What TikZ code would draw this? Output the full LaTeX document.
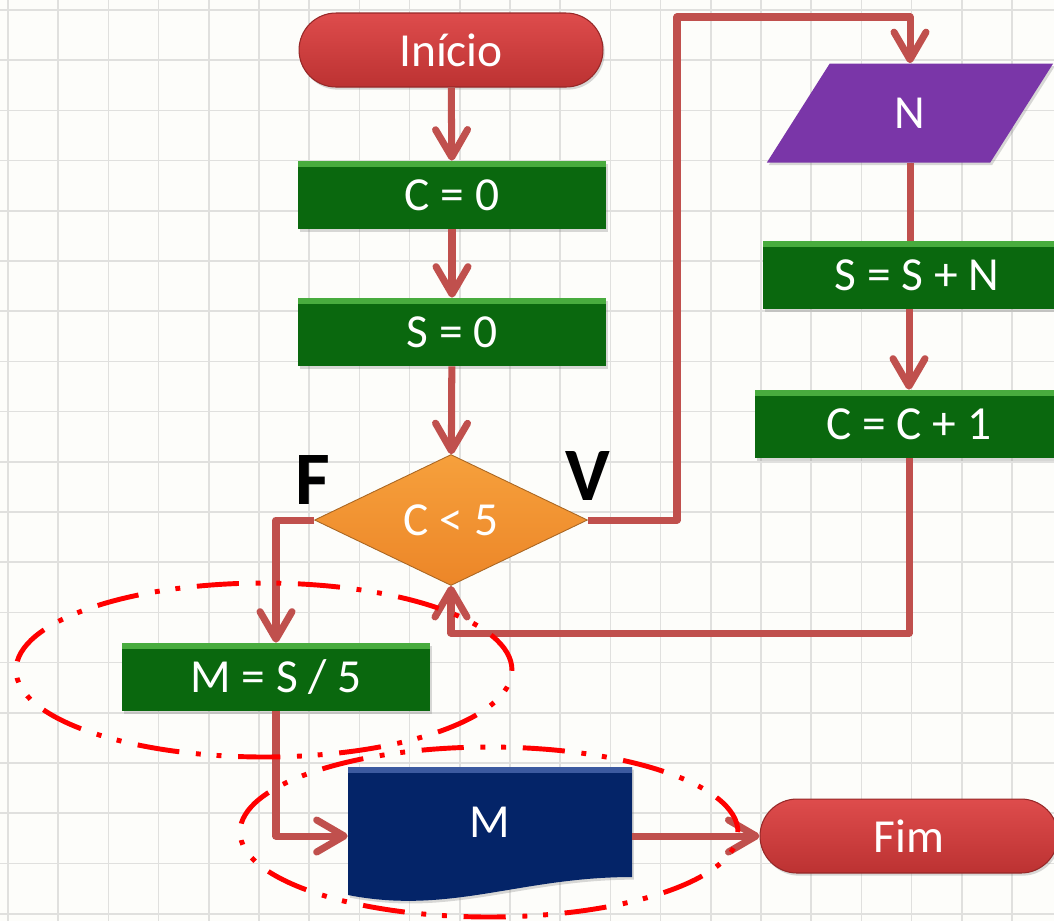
\documentclass[tikz,border=0pt]{standalone}
\usepackage{fontspec}
\setmainfont{Carlito}
\usetikzlibrary{shapes.geometric,shapes.misc,arrows.meta,shadows}

\definecolor{seta}{RGB}{192,80,77}
\definecolor{verde}{RGB}{10,104,14}
\definecolor{verdeclaro}{RGB}{72,172,62}
\definecolor{vermelho}{RGB}{205,62,62}
\definecolor{laranja}{RGB}{242,146,48}
\definecolor{roxo}{RGB}{122,54,168}
\definecolor{roxoclaro}{RGB}{185,115,230}
\definecolor{azul}{RGB}{4,36,104}
\definecolor{azulclaro}{RGB}{60,90,160}
\definecolor{grade}{RGB}{224,224,222}
\definecolor{fundo}{RGB}{253,253,250}

\tikzset{
  rotulo/.style={text=white, font=\fontsize{27}{31}\selectfont, inner sep=0pt},
  sombra/.style={drop shadow={opacity=0.3, shadow xshift=1pt, shadow yshift=-1.5pt}},
  processo/.style={rotulo, sombra, rectangle, fill=verde, minimum width=6.16cm, minimum height=1.36cm,
    path picture={\fill[verdeclaro] (path picture bounding box.north west) rectangle ([yshift=-3.5pt]path picture bounding box.north east);}},
  terminal/.style={rotulo, sombra, rounded rectangle, top color={rgb,255:red,222;green,76;blue,76},
    bottom color={rgb,255:red,188;green,50;blue,50}, draw={rgb,255:red,150;green,40;blue,40}, line width=0.6pt,
    minimum height=1.48cm},
  decisao/.style={rotulo, diamond, aspect=2, top color={rgb,255:red,246;green,160;blue,60},
    bottom color={rgb,255:red,236;green,134;blue,40}, draw=laranja!70!black, line width=0.5pt,
    minimum width=5.46cm, minimum height=2.62cm},
  entradabox/.style={rotulo, sombra, trapezium, trapezium left angle=68.5, trapezium right angle=111.5,
    trapezium stretches=true, fill=roxo, minimum width=5.74cm, minimum height=1.98cm},
  saidabox/.style={rotulo, rectangle, minimum width=5.68cm, minimum height=2.2cm},
  letra/.style={font=\fontsize{43}{50}\selectfont\bfseries, inner sep=0pt},
  linha/.style={draw=seta, line width=4pt, line join=round},
  fluxo/.style={linha, -{Straight Barb[length=5.5mm, width=6.4mm, round]}},
  marca/.style={draw=red, line width=2.8pt, dash pattern=on 24pt off 9.5pt on 2.8pt off 9pt on 2.8pt off 9.5pt},
}

\begin{document}
\begin{tikzpicture}[x=0.02cm, y=-0.02cm]

	% Background and grid
	\useasboundingbox (0,0) rectangle (1054,921);
	\fill[fundo] (0,0) rectangle (1054,921);
	\foreach \i in {0,...,20}
		\draw[grade, line width=1pt] ({8+50.2*\i},0) -- ({8+50.2*\i},921);
	\foreach \j in {0,...,18}
		\draw[grade, line width=1pt] (0,{10+50.2*\j}) -- (1054,{10+50.2*\j});

	% Main column
	\node[terminal, minimum width=6.08cm] (inicio) at (451,50) {Início};
	\node[processo] (czero) at (452,195) {C = 0};
	\node[processo] (szero) at (452,332) {S = 0};
	\node[decisao] (cond) at (451,520) {C < 5};
	\node[letra] (rotF) at (313,480) {F};
	\node[letra] (rotV) at (588,476) {V};

	% Loop body
	\node[entradabox] (entrada) at (910,113) {N};
	\node[processo] (soma) at (917,275) {S = S + N};
	\node[processo] (incr) at (909,424) {C = C + 1};

	% After the loop
	\node[processo] (media) at (276,677) {M = S / 5};
	\fill[azul, sombra] (348,767) -- (632,767) -- (632,877) .. controls (520,877) and (450,915) .. (348,895) -- cycle;
	\fill[azulclaro] (348,767) rectangle (632,773);
	\node[saidabox] (saida) at (490,822) {M};
	\node[terminal, minimum width=5.96cm] (fim) at (909,836) {Fim};

	% Connectors
	\coordinate (topo) at (677,17);
	\coordinate (retorno) at (0,633);
	\draw[fluxo] (inicio) -- (czero);
	\draw[fluxo] (czero) -- (szero);
	\draw[fluxo] (szero) -- (cond);
	\draw[fluxo] (cond.east) -| (topo) -| (entrada.north);
	\draw[linha] (entrada.south) -- (entrada.south |- soma.north);
	\draw[fluxo] (incr.north |- soma.south) -- (incr.north);
	\draw[fluxo] (incr.south) -- (incr.south |- retorno) -| (cond.south);
	\draw[fluxo] (cond.west) -| (media.north);
	\draw[fluxo] (media.south) |- (saida.west |- fim.west);
	\draw[fluxo] (saida.east |- fim.west) -- (fim.west);

	% Highlight marks
	\draw[marca] (264,670) ellipse [x radius=4.96cm, y radius=1.74cm];
	\draw[marca] (489,832) ellipse [x radius=4.98cm, y radius=1.7cm];

\end{tikzpicture}
\end{document}
